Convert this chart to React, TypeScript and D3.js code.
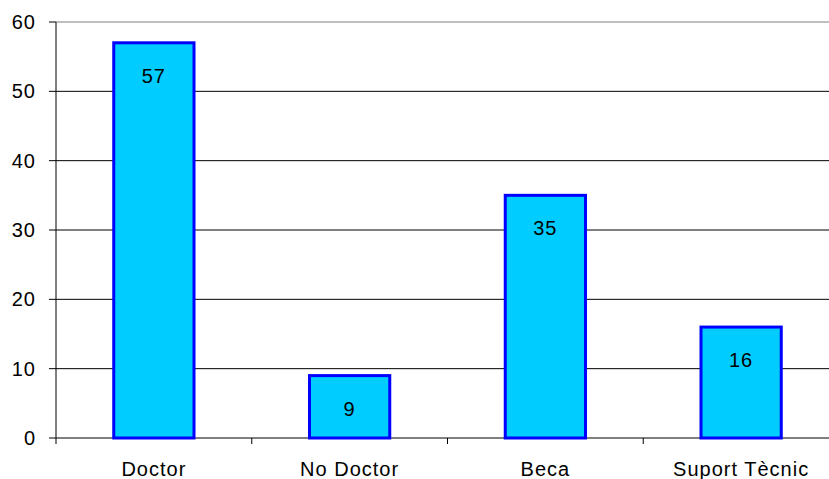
import React from "react";
import * as d3 from "d3";

// data
const categories = ["Doctor", "No Doctor", "Beca", "Suport Tècnic"];
const counts = [57, 9, 35, 16];
const yTicks = [0, 10, 20, 30, 40, 50, 60];

const W = 829;
const H = 479;
const margin = { top: 22, left: 56, bottom: 41 };
const plotRight = 839; // plot area runs past the picture edge

export default function App() {
  const x = d3
    .scaleBand()
    .domain(categories)
    .range([margin.left, plotRight])
    .paddingInner(0.59)
    .paddingOuter(0.295);
  const y = d3
    .scaleLinear()
    .domain([0, 60])
    .range([H - margin.bottom, margin.top]);

  const step = x.step();
  const font = "'Liberation Sans', Arial, sans-serif";

  return (
    <svg
      width={W}
      height={H}
      style={{ position: "absolute", left: 0, top: 0, background: "#fff" }}
      fontFamily={font}
    >
      {/* gridlines */}
      {yTicks.map((t) => (
        <line
          key={"g" + t}
          x1={margin.left}
          x2={plotRight}
          y1={y(t)}
          y2={y(t)}
          stroke={t === 60 ? "#808080" : "#000"}
          strokeWidth={1}
        />
      ))}
      {/* y axis */}
      <line x1={margin.left} x2={margin.left} y1={y(60)} y2={y(0) + 6} stroke="#000" />
      {yTicks.map((t) => (
        <g key={"t" + t}>
          <line x1={margin.left - 7} x2={margin.left} y1={y(t)} y2={y(t)} stroke="#000" />
          <text x={36} y={y(t) + 7} textAnchor="end" fontSize={20} letterSpacing={1} fill="#000">
            {t}
          </text>
        </g>
      ))}
      {/* x ticks at category boundaries */}
      {categories.map((c, i) => (
        <line
          key={"xt" + c}
          x1={margin.left + step * (i + 1)}
          x2={margin.left + step * (i + 1)}
          y1={y(0)}
          y2={y(0) + 6}
          stroke="#000"
        />
      ))}
      {/* bars */}
      {categories.map((c, i) => (
        <g key={c}>
          <rect
            x={x(c)!}
            y={y(counts[i])}
            width={x.bandwidth()}
            height={y(0) - y(counts[i])}
            fill="#00CCFF"
            stroke="#0000FF"
            strokeWidth={3}
          />
          <text
            x={x(c)! + x.bandwidth() / 2}
            y={y(counts[i]) + 40}
            textAnchor="middle"
            fontSize={20}
            letterSpacing={1}
            fill="#000"
          >
            {counts[i]}
          </text>
          <text
            x={x(c)! + x.bandwidth() / 2}
            y={476}
            textAnchor="middle"
            fontSize={20}
            letterSpacing={1}
            fill="#000"
          >
            {c}
          </text>
        </g>
      ))}
    </svg>
  );
}
